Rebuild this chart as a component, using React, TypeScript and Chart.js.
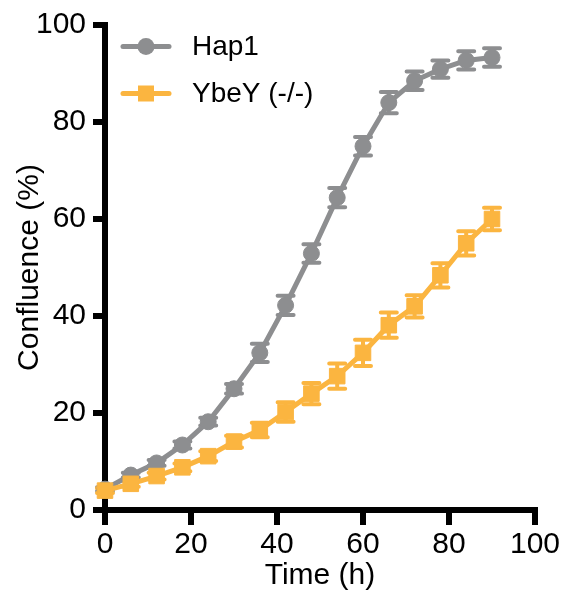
import React, { useEffect, useRef } from 'react';
import { Chart, registerables } from 'chart.js';

Chart.register(...registerables);

const TIME = [0, 6, 12, 18, 24, 30, 36, 42, 48, 54, 60, 66, 72, 78, 84, 90];
const HAP1 = [4.3, 7.2, 9.7, 13.4, 18.2, 25.0, 32.4, 42.2, 52.9, 64.4, 75.0, 84.0, 88.5, 90.9, 92.7, 93.3];
const HAP1_ERR = [0.4, 0.5, 0.6, 0.7, 0.8, 1.0, 1.9, 2.0, 1.9, 2.0, 1.9, 2.2, 1.9, 1.8, 1.9, 1.9];
const YBEY = [4.0, 5.4, 7.0, 8.8, 11.1, 14.1, 16.5, 20.2, 24.0, 27.6, 32.4, 38.1, 42.0, 48.4, 55.0, 60.0];
const YBEY_ERR = [0.5, 0.6, 0.7, 0.8, 1.0, 1.2, 1.5, 2.0, 2.2, 2.6, 2.7, 2.6, 2.3, 2.5, 2.5, 2.3];
const SERIES_LABELS = ['Hap1', 'YbeY (-/-)'];
const X_TITLE = 'Time (h)';
const Y_TITLE = 'Confluence (%)';
const X_TICKS = [0, 20, 40, 60, 80, 100];
const Y_TICKS = [0, 20, 40, 60, 80, 100];

const GRAY = '#8d8e90';
const ORANGE = '#fbb540';
const FONT = "'Liberation Sans', Arial, Helvetica, sans-serif";

const errorBarPlugin = {
  id: 'errorBars',
  beforeDatasetsDraw(chart: any) {
    const { ctx } = chart;
    const xs = chart.scales.x;
    const ys = chart.scales.y;
    chart.data.datasets.forEach((ds: any) => {
      const errs: number[] = ds.errors || [];
      ctx.save();
      ctx.strokeStyle = ds.borderColor;
      ctx.lineWidth = 4;
      ctx.lineCap = 'round';
      ds.data.forEach((p: any, j: number) => {
        const e = errs[j] || 0;
        const px = xs.getPixelForValue(p.x);
        const top = ys.getPixelForValue(p.y + e);
        const bot = ys.getPixelForValue(p.y - e);
        ctx.beginPath();
        ctx.moveTo(px, top);
        ctx.lineTo(px, bot);
        ctx.moveTo(px - 8, top);
        ctx.lineTo(px + 8, top);
        ctx.moveTo(px - 8, bot);
        ctx.lineTo(px + 8, bot);
        ctx.stroke();
      });
      ctx.restore();
    });
  },
};

const legendPlugin = {
  id: 'insideLegend',
  afterDraw(chart: any) {
    const { ctx, chartArea } = chart;
    const rows = [21.5, 68.5];
    chart.data.datasets.forEach((ds: any, i: number) => {
      const cy = chartArea.top + rows[i];
      const cx = chartArea.left + 41;
      ctx.save();
      ctx.strokeStyle = ds.borderColor;
      ctx.fillStyle = ds.backgroundColor;
      ctx.lineWidth = 5;
      ctx.lineCap = 'round';
      ctx.beginPath();
      ctx.moveTo(cx - 23, cy);
      ctx.lineTo(cx + 23, cy);
      ctx.stroke();
      if (ds.pointStyle === 'rect') {
        ctx.fillRect(cx - 8, cy - 8, 16, 16);
      } else {
        ctx.beginPath();
        ctx.arc(cx, cy, 8.5, 0, Math.PI * 2);
        ctx.fill();
      }
      ctx.fillStyle = '#000';
      ctx.font = `28px ${FONT}`;
      ctx.textBaseline = 'middle';
      ctx.textAlign = 'left';
      ctx.fillText(ds.label, chartArea.left + 87, cy + 1);
      ctx.restore();
    });
  },
};

export default function App() {
  const canvasRef = useRef<HTMLCanvasElement | null>(null);

  useEffect(() => {
    document.body.style.margin = '0';
    const canvas = canvasRef.current;
    if (!canvas) return;
    const chart = new Chart(canvas, {
      type: 'line',
      data: {
        datasets: [
          {
            label: SERIES_LABELS[0],
            data: TIME.map((t, i) => ({ x: t, y: HAP1[i] })),
            errors: HAP1_ERR,
            borderColor: GRAY,
            backgroundColor: GRAY,
            borderWidth: 5,
            pointStyle: 'circle',
            pointRadius: 8,
            pointBorderWidth: 1,
            pointBackgroundColor: GRAY,
            pointBorderColor: GRAY,
            tension: 0,
            clip: false,
            order: 2,
          } as any,
          {
            label: SERIES_LABELS[1],
            data: TIME.map((t, i) => ({ x: t, y: YBEY[i] })),
            errors: YBEY_ERR,
            borderColor: ORANGE,
            backgroundColor: ORANGE,
            borderWidth: 5,
            pointStyle: 'rect',
            pointRadius: 11,
            pointBorderWidth: 1,
            pointBackgroundColor: ORANGE,
            pointBorderColor: ORANGE,
            tension: 0,
            clip: false,
            order: 1,
          } as any,
        ],
      },
      options: {
        animation: false,
        responsive: false,
        devicePixelRatio: 1,
        layout: { padding: { left: 0, right: 36, top: 24, bottom: 0 } },
        plugins: {
          legend: { display: false },
          tooltip: { enabled: false },
        },
        scales: {
          x: {
            type: 'linear',
            min: 0,
            max: 100,
            afterFit: (s: any) => { s.height = 85; },
            afterBuildTicks: (s: any) => { s.ticks = X_TICKS.map((v) => ({ value: v })); },
            grid: { drawOnChartArea: false, drawTicks: true, tickLength: 15, lineWidth: 6, color: '#000' },
            border: { display: true, width: 6, color: '#000' },
            ticks: {
              color: '#000',
              font: { family: FONT, size: 30 },
              padding: 2,
              maxRotation: 0,
              autoSkip: false,
            },
            title: {
              display: true,
              text: X_TITLE,
              color: '#000',
              font: { family: FONT, size: 30 },
              padding: { top: 0, bottom: 1 },
            },
          },
          y: {
            type: 'linear',
            min: 0,
            max: 100,
            afterFit: (s: any) => { s.width = 105; },
            afterBuildTicks: (s: any) => { s.ticks = Y_TICKS.map((v) => ({ value: v })); },
            grid: { drawOnChartArea: false, drawTicks: true, tickLength: 12, lineWidth: 6, color: '#000' },
            border: { display: true, width: 6, color: '#000' },
            ticks: {
              color: '#000',
              font: { family: FONT, size: 30 },
              padding: 7,
              autoSkip: false,
            },
            title: {
              display: true,
              text: Y_TITLE,
              color: '#000',
              font: { family: FONT, size: 30 },
              padding: { top: 12, bottom: 0 },
            },
          },
        },
      } as any,
      plugins: [errorBarPlugin, legendPlugin],
    });
    return () => chart.destroy();
  }, []);

  return <canvas ref={canvasRef} width={571} height={595} style={{ display: 'block' }} />;
}
